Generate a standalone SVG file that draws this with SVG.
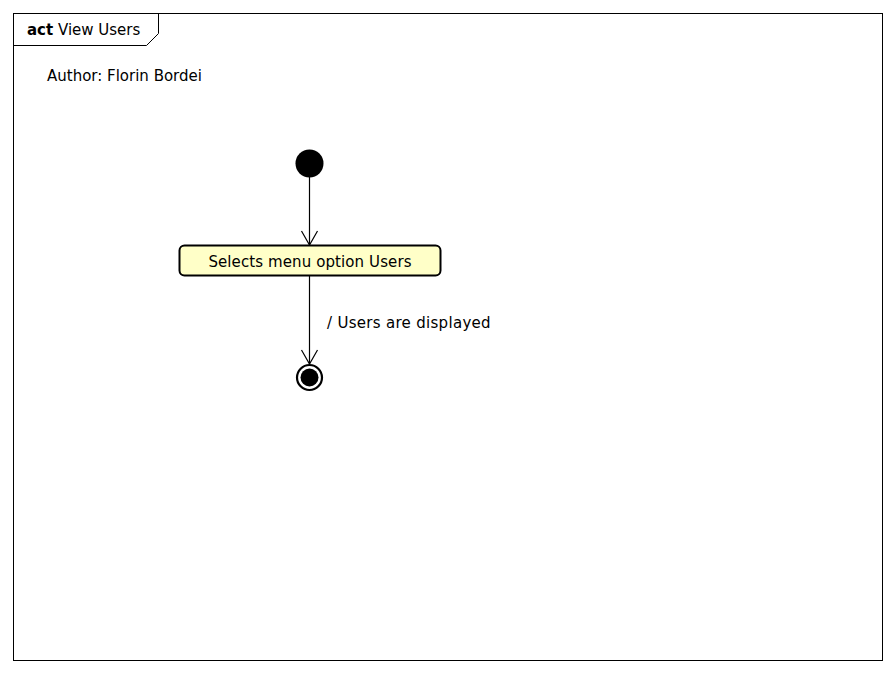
<svg xmlns="http://www.w3.org/2000/svg" width="896" height="674" viewBox="0 0 896 674">
  <style>
    text { font-family: "DejaVu Sans", "Noto Sans", sans-serif; font-size: 15px; fill: #000; }
    .frame { fill: none; stroke: #000; stroke-width: 1; }
    .edge { fill: none; stroke: #000; stroke-width: 1.2; }
  </style>
  <defs>
    <!-- open V arrowhead, drawn pointing along +x -->
    <marker id="open" markerWidth="18" markerHeight="20" refX="15" refY="9" orient="auto" markerUnits="userSpaceOnUse" viewBox="0 0 18 18">
      <path d="M1,1 L15,9 L1,17" fill="none" stroke="#000" stroke-width="1.2"/>
    </marker>
  </defs>
  <rect width="896" height="674" fill="#fff"/>

  <g id="frame">
    <rect class="frame" x="13.5" y="13.5" width="869" height="647"/>
    <path class="frame" d="M13.5,45.5 H146.5 L158.5,33.5 V13.5"/>
    <text x="27" y="35"><tspan font-weight="bold">act</tspan> View Users</text>
  </g>

  <g id="author">
    <text x="47" y="81">Author: Florin Bordei</text>
  </g>

  <g id="edges">
    <path class="edge" d="M309.5,177 V245" marker-end="url(#open)"/>
    <path class="edge" d="M309.5,276 V364" marker-end="url(#open)"/>
    <text x="327" y="328" letter-spacing="0.3">/ Users are displayed</text>
  </g>

  <g id="initial">
    <circle cx="309.5" cy="163.5" r="14" fill="#000"/>
  </g>

  <g id="action">
    <rect x="179.5" y="245.5" width="261" height="30" rx="5" fill="#ffffc8" stroke="#000" stroke-width="2"/>
    <text x="310" y="267" text-anchor="middle" letter-spacing="0.1">Selects menu option Users</text>
  </g>

  <g id="final">
    <circle cx="309.5" cy="377.5" r="12.5" fill="#fff" stroke="#000" stroke-width="2.2"/>
    <circle cx="309.5" cy="377.5" r="9" fill="#000"/>
  </g>
</svg>
